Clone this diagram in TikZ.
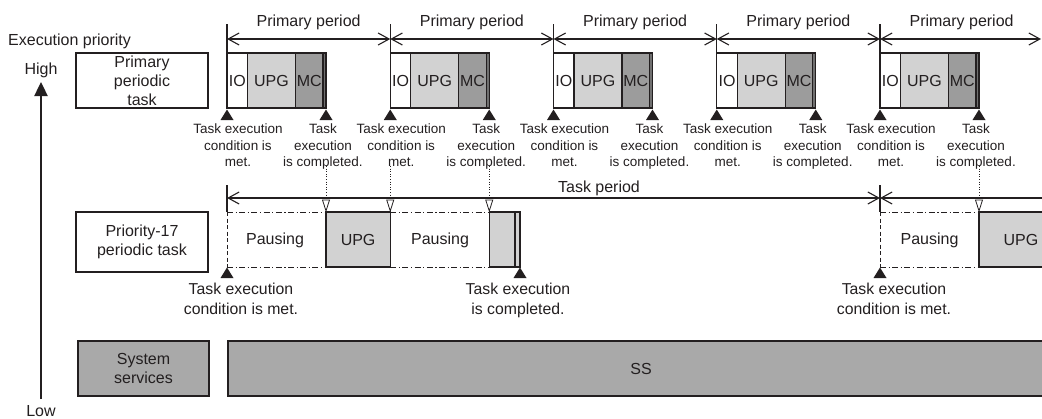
\documentclass[tikz,border=0pt]{standalone}
\usepackage{fontspec}
\setmainfont{Liberation Sans}
\usetikzlibrary{arrows.meta}
\definecolor{upg}{HTML}{D2D2D2}
\definecolor{mcg}{HTML}{9C9C9C}
\definecolor{stripg}{HTML}{707070}
\definecolor{ssg}{HTML}{A9A9A9}
\definecolor{ln}{HTML}{231F20}
\begin{document}
\begin{tikzpicture}[x=1pt,y=-1pt,
  lbl/.style={font=\fontsize{16}{19}\selectfont, inner sep=0pt, text=ln},
  ann/.style={font=\fontsize{13.5}{16.5}\selectfont, align=center, inner sep=0pt, text=ln},
  annb/.style={font=\fontsize{15.8}{19.5}\selectfont, align=center, inner sep=0pt, text=ln},
  bx/.style={draw=ln, line width=1.1pt, font=\fontsize{16}{19}\selectfont, align=center, inner sep=0pt, text=ln},
  seg/.style={bx, minimum height=55pt},
  tick/.style={draw=ln, line width=1.1pt},
  parr/.style={draw=ln, line width=1.1pt, {Straight Barb[length=11pt,width=12pt]}-{Straight Barb[length=11pt,width=12pt]}},
  larr/.style={draw=ln, line width=1.1pt, {Straight Barb[length=11pt,width=12pt]}-},
  dotl/.style={draw=ln, line width=0.8pt, dash pattern=on 1pt off 1.6pt},
  dashdot/.style={draw=ln, line width=0.9pt, dash pattern=on 6pt off 2.5pt on 1.2pt off 2.5pt},
  dashl/.style={draw=ln, line width=0.9pt, dash pattern=on 4pt off 2.5pt},
  trif/.style={fill=ln},
  trio/.style={draw=ln, fill=white, line width=0.8pt}
]
\useasboundingbox (0,0) rectangle (1042,418);

% priority axis
\coordinate (axlo) at (41,399);
\coordinate (axhi) at (41,82);
\draw[ln, line width=2.4pt, -{Triangle[length=14pt,width=13pt]}] (axlo) -- (axhi);
\node[lbl, anchor=base west] (ep) at (8,45) {Execution priority};
\node[lbl, anchor=base] (high) at (41,74) {High};
\node[lbl, anchor=base] (low) at (41,416) {Low};

% row labels
\node[bx, minimum width=132pt, minimum height=55pt] (ppt) at (142,80.5) {Primary\\periodic\\task};
\node[bx, minimum width=132pt, minimum height=60pt] (p17) at (142,242) {Priority-17\\periodic task};
\node[bx, fill=ssg, minimum width=131pt, minimum height=55pt] (sys) at (143.5,368.5) {System\\services};
\node[bx, fill=ssg, minimum width=826pt, minimum height=55pt] (ss) at (641,368.5) {SS};

% primary periods
\foreach \i/\p in {1/227,2/390.25,3/553.5,4/716.75,5/880}{
  \draw[tick] (\p,24) -- (\p,53);
  \coordinate (pa\i) at (\p,39);
  \node[lbl, anchor=base] (pl\i) at (\p+81.6,26) {Primary period};
  \node[seg, fill=white, minimum width=20.5pt] (io\i) at (\p+10.25,80.5) {IO};
  \node[seg, fill=upg, minimum width=48pt] (ug\i) at (\p+44.5,80.5) {UPG};
  \node[seg, fill=mcg, minimum width=27.5pt] (mc\i) at (\p+82.25,80.5) {MC};
  \node[seg, fill=stripg, minimum width=3pt] (st\i) at (\p+97.5,80.5) {};
  \fill[trif] (\p,109.5) -- (\p+6.5,120) -- (\p-6.5,120) -- cycle;
  \fill[trif] (\p+99,109.5) -- (\p+105.5,120) -- (\p+92.5,120) -- cycle;
  \node[ann, anchor=north] (cm\i) at (\p+11,124) {Task execution\\condition is\\met.};
  \node[ann, anchor=north] (cp\i) at (\p+96,124) {Task\\execution\\is completed.};
}
\coordinate (paend) at (1041,39);
\draw[parr] (pa1) -- (pa2);
\draw[parr] (pa2) -- (pa3);
\draw[parr] (pa3) -- (pa4);
\draw[parr] (pa4) -- (pa5);
\draw[parr] (pa5) -- (paend);

% task period
\coordinate (tp1) at (227,198);
\coordinate (tp2) at (880,198);
\coordinate (tp3) at (1060,198);
\draw[tick] (227,185) -- (227,212);
\draw[tick] (880,185) -- (880,212);
\draw[parr] (tp1) -- (tp2);
\draw[larr] (tp2) -- (tp3);
\node[lbl, anchor=base] (tpl) at (599,192) {Task period};

% priority-17 task row
\draw[dashdot] (227,212) -- (326,212);
\draw[dashdot] (227,267) -- (326,267);
\draw[dashl] (227,212) -- (227,267);
\node[lbl] (pz1) at (275,240) {Pausing};
\node[seg, fill=upg, minimum width=64.25pt] (u17a) at (358.1,239.5) {UPG};
\draw[dashdot] (390.25,212) -- (489.25,212);
\draw[dashdot] (390.25,267) -- (489.25,267);
\node[lbl] (pz2) at (440,240) {Pausing};
\node[seg, fill=upg, minimum width=30.75pt] (u17b) at (504.6,239.5) {};
\draw[ln, line width=1.1pt] (515,212) -- (515,267);
\draw[dashdot] (880,212) -- (979,212);
\draw[dashdot] (880,267) -- (979,267);
\draw[dashl] (880,212) -- (880,267);
\node[lbl] (pz3) at (929.5,240) {Pausing};
\node[seg, fill=upg, minimum width=84pt] (u17c) at (1021,239.5) {UPG};

\fill[trif] (227,267.5) -- (233.5,278) -- (220.5,278) -- cycle;
\fill[trif] (520,267.5) -- (526.5,278) -- (513.5,278) -- cycle;
\fill[trif] (880,267.5) -- (886.5,278) -- (873.5,278) -- cycle;
\node[annb, anchor=north] (b1) at (241,283) {Task execution\\condition is met.};
\node[annb, anchor=north] (b2) at (518,283) {Task execution\\is completed.};
\node[annb, anchor=north] (b3) at (894,283) {Task execution\\condition is met.};

% dotted links
\foreach \j/\x in {1/326,2/390.25,3/489.25,4/979}{
  \coordinate (ds\j) at (\x,166);
  \coordinate (de\j) at (\x,200);
  \draw[dotl] (ds\j) -- (de\j);
  \draw[trio] (\x-3.5,200) -- (\x+3.5,200) -- (\x,211) -- cycle;
}
\end{tikzpicture}
\end{document}
